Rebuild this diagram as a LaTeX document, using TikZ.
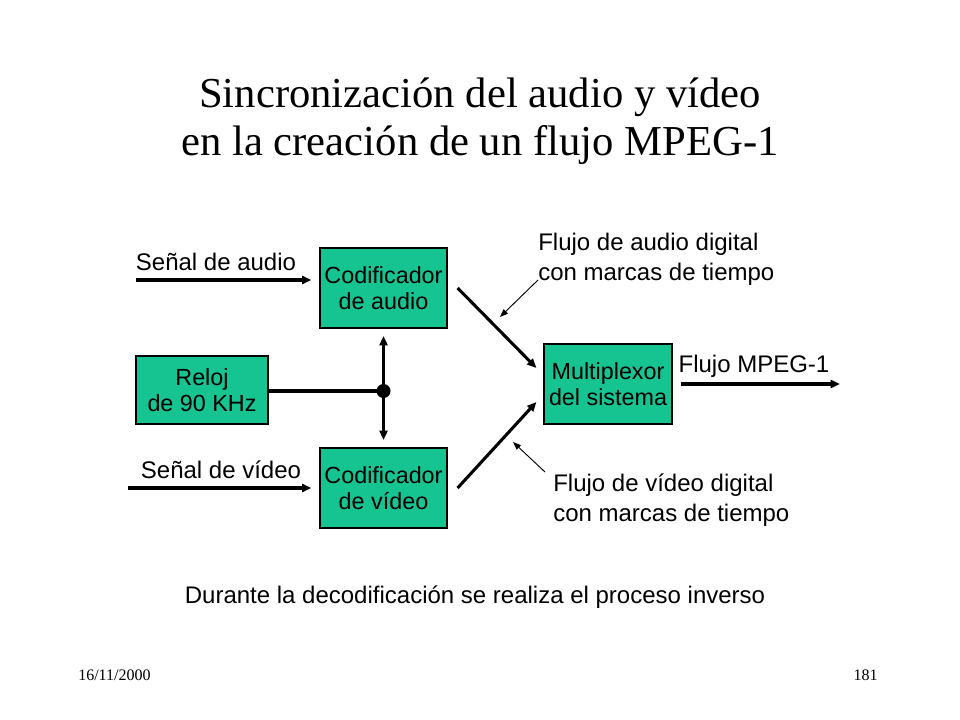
\documentclass[tikz,border=0pt]{standalone}
\usepackage{fontspec}
\setmainfont{Liberation Serif}
\setsansfont{Liberation Sans}
\usetikzlibrary{arrows.meta}
\definecolor{boxgreen}{RGB}{22,196,146}
\tikzset{
  blk/.style={draw=black, line width=0.9pt, fill=boxgreen, align=center,
    minimum width={127*0.75pt}, minimum height={80*0.75pt}, inner sep=0pt,
    font=\sffamily\fontsize{17.5}{19.5}\selectfont},
  lbl/.style={align=left, inner sep=0pt, font=\sffamily\fontsize{18}{22.5}\selectfont},
  thickarr/.style={line width=2.3pt, -{Triangle[length=7pt,width=6pt]}},
  thinarr/.style={line width=0.7pt, -{Triangle[length=6pt,width=4.5pt]}},
}
\begin{document}
\begin{tikzpicture}[x=0.75pt,y=-0.75pt]
\useasboundingbox (0,0) rectangle (960,720);
% title
\node[align=center, inner sep=0pt, font=\fontsize{32}{36}\selectfont] (title) at (480,121)
  {Sincronización del audio y vídeo\\en la creación de un flujo MPEG-1};
% boxes
\node[blk] (ca) at (383.5,288) {Codificador\\de audio};
\node[blk] (cv) at (383.5,488) {Codificador\\de vídeo};
\node[blk, minimum width={132*0.75pt}, minimum height={68*0.75pt}] (rl) at (202,390) {Reloj\\de 90 KHz};
\node[blk, minimum width={128*0.75pt}] (mux) at (608,384) {Multiplexor\\del sistema};
% labels
\node[lbl] (lsa) at (216,262) {Señal de audio};
\node[lbl] (lsv) at (221,470) {Señal de vídeo};
\node[lbl] (lmp) at (754,366) {Flujo MPEG-1};
\node[lbl, anchor=west] (lfa) at (538,259) {Flujo de audio digital\\con marcas de tiempo};
\node[lbl, anchor=west] (lfv) at (553,500) {Flujo de vídeo digital\\con marcas de tiempo};
\node[lbl] (ldur) at (475,597) {Durante la decodificación se realiza el proceso inverso};
% footer
\node[anchor=west, inner sep=0pt, font=\fontsize{12}{14}\selectfont] (fdate) at (78,675) {16/11/2000};
\node[anchor=east, inner sep=0pt, font=\fontsize{12}{14}\selectfont] (fpage) at (878,675) {181};
% coordinates
\coordinate (sa) at (136,280);
\coordinate (sv) at (128,488);
\coordinate (dot) at (383.5,391);
\coordinate (up) at (383.5,336);
\coordinate (dn) at (383.5,440);
\coordinate (mpend) at (840,384);
\coordinate (fa1) at (538,280);
\coordinate (fa2) at (500,317);
\coordinate (fv1) at (545,472);
\coordinate (fv2) at (513,442);
% connectors
\draw[thickarr, shorten >=6pt] (sa) -- (sa -| ca.west);
\draw[thickarr, shorten >=6pt] (sv) -- (sv -| cv.west);
\draw[line width=2.3pt] (rl.east |- dot) -- (dot);
\fill (dot) circle (7);
\draw[thickarr] (dot) -- (up);
\draw[thickarr] (dot) -- (dn);
\draw[thickarr] ([shift={(10,0)}]ca.east) -- ([shift={(-7,-16)}]mux.west);
\draw[thickarr] ([shift={(10,0)}]cv.east) -- ([shift={(-7,18)}]mux.west);
\draw[thickarr] ([xshift=6pt]mux.east) -- (mpend);
\draw[thinarr] (fa1) -- (fa2);
\draw[thinarr] (fv1) -- (fv2);
\end{tikzpicture}
\end{document}
